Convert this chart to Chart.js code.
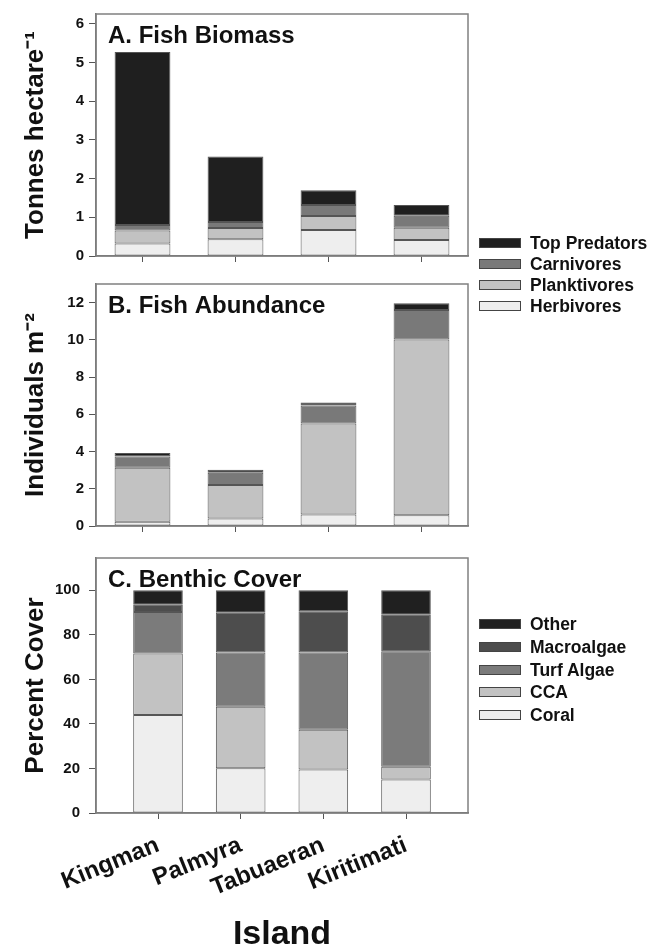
<!DOCTYPE html>
<html><head><meta charset="utf-8">
<script src="https://cdn.jsdelivr.net/npm/chart.js@4.4.0/dist/chart.umd.min.js"></script>
<style>
html,body{margin:0;padding:0;background:#fff;}
body{width:662px;height:952px;position:relative;overflow:hidden;font-family:"Liberation Sans",Arial,sans-serif;}
canvas{position:absolute;left:0;}
.row{position:absolute;left:479px;height:10px;white-space:nowrap;}
.sw{position:absolute;left:0;top:0;width:40px;height:8px;border:1px solid #444;}
.lb{position:absolute;left:51px;top:-5px;line-height:20px;font:bold 17.5px "Liberation Sans",Arial,sans-serif;color:#111;}
</style>
</head><body>
<canvas id="cA" width="662" height="270" style="top:0"></canvas>
<canvas id="cB" width="662" height="270" style="top:270px"></canvas>
<canvas id="cC" width="662" height="412" style="top:540px"></canvas>
<div id="legA"></div>
<div id="legC"></div>
<script>
// ---- data ----
const islands = ['Kingman', 'Palmyra', 'Tabuaeran', 'Kiritimati'];

const fishGroups = ['Herbivores', 'Planktivores', 'Carnivores', 'Top Predators'];
const fishColors = ['#eeeeee', '#c2c2c2', '#797979', '#1f1f1f'];

const biomassHerbivores   = [0.32, 0.43, 0.67, 0.41];
const biomassPlanktivores = [0.34, 0.29, 0.36, 0.32];
const biomassCarnivores   = [0.14, 0.16, 0.29, 0.31];
const biomassTopPredators = [4.47, 1.69, 0.38, 0.28];

const abundanceHerbivores   = [0.23, 0.40, 0.62, 0.58];
const abundancePlanktivores = [2.90, 1.80, 4.88, 9.44];
const abundanceCarnivores   = [0.61, 0.66, 0.97, 1.58];
const abundanceTopPredators = [0.18, 0.16, 0.17, 0.37];

const benthicGroups = ['Coral', 'CCA', 'Turf Algae', 'Macroalgae', 'Other'];
const benthicColors = ['#eeeeee', '#c2c2c2', '#7b7b7b', '#4d4d4d', '#202020'];
const coverCoral      = [44.0, 20.1, 19.5, 15.0];
const coverCCA        = [27.6, 27.6, 17.9, 5.8];
const coverTurf       = [18.6, 24.4, 34.7, 51.8];
const coverMacroalgae = [3.3, 17.8, 18.5, 16.4];
const coverOther      = [6.5, 10.1, 9.4, 11.0];

const biomassTicks   = [0, 1, 2, 3, 4, 5, 6];
const abundanceTicks = [0, 2, 4, 6, 8, 10, 12];
const coverTicks     = [0, 20, 40, 60, 80, 100];

// ---- helpers ----
const FAM = '"Liberation Sans", Arial, sans-serif';

const framePlugin = {
  id: 'frame',
  afterDatasetsDraw(chart) {
    const {ctx, chartArea: a} = chart;
    ctx.save();
    ctx.strokeStyle = '#808080';
    ctx.lineWidth = 1.5;
    ctx.strokeRect(a.left, a.top, a.right - a.left, a.bottom - a.top);
    ctx.restore();
  }
};
const panelTitlePlugin = {
  id: 'panelTitle',
  afterDraw(chart, args, opts) {
    const {ctx, chartArea: a} = chart;
    ctx.save();
    ctx.font = 'bold 24px ' + FAM;
    ctx.fillStyle = '#111';
    ctx.textAlign = 'left';
    ctx.textBaseline = 'alphabetic';
    ctx.fillText(opts.text, a.left + 12, a.top + 29);
    ctx.restore();
  }
};

function makeDatasets(names, colors, series) {
  return series.map((vals, k) => ({
    label: names[k],
    data: vals.map((v, i) => ({x: i, y: v})),
    backgroundColor: colors[k],
    borderColor: '#555555',
    borderWidth: 1,
    borderSkipped: false,
    barPercentage: 0.6,
    categoryPercentage: 1,
    inflateAmount: 0
  }));
}

function makePanel(id, cfg) {
  const xScale = {
    type: 'linear',
    min: cfg.xMin, max: cfg.xMax,
    stacked: true,
    offset: false,
    afterBuildTicks: s => { s.ticks = islands.map((_, i) => ({value: i})); },
    afterFit: s => { s.height = cfg.xHeight; },
    grid: {display: true, offset: false, drawOnChartArea: false, drawTicks: true, tickLength: 6, color: '#555', lineWidth: 1},
    border: {display: true, color: '#707070', width: 1.5},
    ticks: {
      display: cfg.showX,
      autoSkip: false,
      minRotation: 22, maxRotation: 22,
      padding: 12,
      color: '#111',
      font: {family: FAM, size: 24, weight: 'bold'},
      callback: v => islands[v]
    },
    title: cfg.showX ? {display: true, text: 'Island', color: '#111',
      font: {family: FAM, size: 34, weight: 'bold', lineHeight: 1}, padding: {top: 0, bottom: 0}} : {display: false}
  };
  const yScale = {
    type: 'linear',
    min: 0, max: cfg.yMax,
    stacked: true,
    afterBuildTicks: s => { s.ticks = cfg.yTicks.map(v => ({value: v})); },
    afterFit: s => { s.width = 96; },
    grid: {display: true, drawOnChartArea: false, drawTicks: true, tickLength: 7, color: '#555', lineWidth: 1},
    border: {display: true, color: '#707070', width: 1.5},
    ticks: {color: '#111', padding: cfg.yPad, font: {family: FAM, size: 15, weight: 'bold'}},
    title: {display: true, text: cfg.yTitle, color: '#111',
      font: {family: FAM, size: 26, weight: 'bold'}, padding: {top: 20, bottom: 0}}
  };
  return new Chart(document.getElementById(id), {
    type: 'bar',
    data: {datasets: cfg.datasets},
    options: {
      responsive: false,
      animation: false,
      devicePixelRatio: 1,
      layout: {padding: {top: cfg.top, right: 194, left: 0, bottom: 0}},
      plugins: {legend: {display: false}, tooltip: {enabled: false}, panelTitle: {text: cfg.title}},
      scales: {x: xScale, y: yScale}
    },
    plugins: [framePlugin, panelTitlePlugin]
  });
}

makePanel('cA', {
  title: 'A. Fish Biomass', yTitle: 'Tonnes hectare\u207B\u00B9',
  top: 10, xHeight: 14, yMax: 6.25, yTicks: biomassTicks, xMin: -0.5, xMax: 3.5, showX: false, yPad: 5,
  datasets: makeDatasets(fishGroups, fishColors,
    [biomassHerbivores, biomassPlanktivores, biomassCarnivores, biomassTopPredators])
});
makePanel('cB', {
  title: 'B. Fish Abundance', yTitle: 'Individuals m\u207B\u00B2',
  top: 13, xHeight: 11, yMax: 13, yTicks: abundanceTicks, xMin: -0.5, xMax: 3.5, showX: false, yPad: 5,
  datasets: makeDatasets(fishGroups, fishColors,
    [abundanceHerbivores, abundancePlanktivores, abundanceCarnivores, abundanceTopPredators])
});
makePanel('cC', {
  title: 'C. Benthic Cover', yTitle: 'Percent Cover',
  top: 13, xHeight: 139, yMax: 114.5, yTicks: coverTicks, xMin: -0.75, xMax: 3.75, showX: true, yPad: 9,
  datasets: makeDatasets(benthicGroups, benthicColors,
    [coverCoral, coverCCA, coverTurf, coverMacroalgae, coverOther])
});

// ---- legends (HTML text) ----
function buildLegend(el, names, colors, top0, step) {
  const order = names.map((n, i) => i).reverse();
  order.forEach((k, j) => {
    const row = document.createElement('div');
    row.className = 'row';
    row.style.top = (top0 + j * step) + 'px';
    const sw = document.createElement('div');
    sw.className = 'sw';
    sw.style.background = colors[k];
    const lb = document.createElement('div');
    lb.className = 'lb';
    lb.textContent = names[k];
    row.appendChild(sw); row.appendChild(lb);
    el.appendChild(row);
  });
}
buildLegend(document.getElementById('legA'), fishGroups, fishColors, 238, 21);
buildLegend(document.getElementById('legC'), benthicGroups, benthicColors, 619, 22.8);
</script>
</body></html>
